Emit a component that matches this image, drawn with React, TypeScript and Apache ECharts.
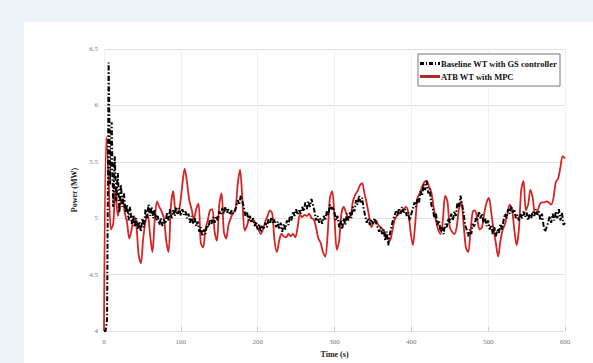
import React, { useEffect, useRef } from "react";
import * as echarts from "echarts";

const xTicks = [0, 100, 200, 300, 400, 500, 600];
const yTicks = [4, 4.5, 5, 5.5, 6, 6.5];

const baselineName = "Baseline WT with GS controller";
const mpcName = "ATB WT with MPC";

// Baseline WT, one value every 2 s from t = 0
const baselineStep = 2;
const baselineValues = [
  4.00, 4.00, 4.10, 6.38, 5.30, 5.85, 5.10, 5.55, 5.15, 5.40,
  5.05, 5.30, 5.10, 5.22, 5.05, 5.12, 4.98, 5.10, 4.95, 5.02,
  4.92, 5.00, 4.90, 4.97, 4.88, 5.00, 4.92, 5.08, 5.00, 5.12,
  5.02, 5.10, 5.00, 5.08, 4.98, 5.02, 4.94, 5.00, 4.93, 4.99,
  4.95, 5.05, 4.98, 5.08, 5.00, 5.07, 5.02, 5.10, 5.04, 5.09,
  5.02, 5.08, 5.03, 5.06, 5.00, 5.04, 4.96, 5.02, 4.95, 5.00,
  4.93, 4.97, 4.88, 4.92, 4.84, 4.90, 4.86, 4.94, 4.92, 4.99,
  4.95, 5.01, 4.96, 5.02, 4.98, 5.06, 5.03, 5.09, 5.04, 5.10,
  5.05, 5.08, 5.03, 5.07, 5.04, 5.06, 5.10, 5.16, 5.12, 5.20,
  5.15, 5.10, 5.02, 5.06, 4.98, 5.02, 4.96, 5.00, 4.93, 4.97,
  4.90, 4.95, 4.88, 4.93, 4.90, 4.96, 4.92, 4.99, 4.95, 5.01,
  4.96, 4.99, 4.92, 4.97, 4.90, 4.96, 4.88, 4.95, 4.90, 4.98,
  4.94, 5.02, 4.98, 5.06, 5.02, 5.08, 5.03, 5.07, 5.04, 5.10,
  5.06, 5.14, 5.08, 5.15, 5.10, 5.17, 5.12, 5.06, 4.98, 5.02,
  4.96, 5.00, 4.95, 5.02, 4.98, 5.06, 5.03, 5.12, 5.08, 5.10,
  5.05, 4.98, 5.02, 4.92, 4.98, 4.90, 5.00, 4.94, 5.04, 4.98,
  5.05, 5.00, 5.10, 5.06, 5.16, 5.12, 5.20, 5.14, 5.18, 5.08,
  5.02, 4.96, 5.00, 4.94, 4.99, 4.95, 5.00, 4.96, 4.92, 4.88,
  4.92, 4.86, 4.90, 4.80, 4.88, 4.76, 4.86, 4.92, 4.98, 5.02,
  5.06, 5.02, 5.09, 5.04, 5.10, 5.05, 5.08, 5.02, 5.05, 4.98,
  5.04, 5.08, 5.14, 5.10, 5.18, 5.14, 5.24, 5.20, 5.30, 5.25,
  5.33, 5.22, 5.26, 5.12, 5.08, 5.00, 5.04, 4.94, 4.98, 4.88,
  4.92, 4.86, 4.95, 4.92, 5.00, 4.96, 5.04, 4.98, 5.06, 5.02,
  5.14, 5.10, 5.20, 5.12, 5.05, 4.94, 4.90, 4.84, 4.90, 4.86,
  4.95, 4.92, 5.00, 4.98, 5.06, 5.00, 5.04, 4.96, 5.00, 4.93,
  4.98, 4.90, 4.94, 4.86, 4.92, 4.84, 4.90, 4.87, 4.95, 4.90,
  4.98, 5.04, 5.00, 5.08, 5.04, 5.11, 5.05, 5.08, 5.00, 5.03,
  4.98, 5.04, 5.00, 5.06, 5.01, 5.05, 4.98, 5.04, 5.00, 5.06,
  5.02, 5.08, 5.03, 5.06, 4.98, 5.04, 4.94, 4.88, 4.92, 4.96,
  5.02, 4.96, 5.04, 4.98, 5.06, 5.00, 5.08, 4.98, 5.05, 4.94,
  4.96,
];

// ATB WT with MPC, one value every 3 s from t = 0
const mpcStep = 3;
const mpcValues = [
  4.00, 5.72, 5.35, 4.90, 4.95, 5.27, 5.02, 5.12, 5.17, 5.05,
  4.96, 4.82, 4.90, 5.02, 4.95, 4.68, 4.60, 4.82, 4.97, 5.03,
  4.85, 4.70, 4.98, 5.15, 5.10, 5.06, 5.00, 4.80, 4.70, 5.10,
  5.24, 5.06, 5.04, 5.12, 5.30, 5.44, 5.32, 5.16, 5.08, 4.99,
  5.08, 5.13, 4.78, 4.74, 4.90, 4.98, 5.07, 5.08, 4.88, 4.80,
  5.12, 5.22, 4.88, 4.82, 4.94, 5.00, 5.05, 5.07, 5.30, 5.43,
  5.18, 4.89, 4.93, 4.99, 4.97, 4.98, 4.94, 4.90, 4.86, 4.90,
  4.97, 5.02, 5.07, 5.04, 4.80, 4.70, 4.80, 4.86, 4.84, 4.83,
  4.86, 4.84, 4.86, 4.83, 4.92, 5.03, 5.01, 5.03, 5.02, 5.04,
  5.00, 4.99, 4.92, 4.82, 4.78, 4.70, 4.66, 4.85, 5.18, 5.24,
  5.00, 4.72, 4.80, 5.04, 5.10, 5.05, 5.00, 5.02, 5.15, 5.21,
  5.24, 5.29, 5.31, 5.22, 5.13, 5.02, 4.92, 4.96, 4.98, 4.94,
  4.92, 4.90, 4.87, 4.82, 4.80, 4.88, 4.98, 5.02, 5.04, 5.06,
  5.08, 5.10, 5.05, 4.88, 4.76, 4.95, 5.18, 5.22, 5.28, 5.32,
  5.33, 5.28, 5.23, 5.10, 4.98, 4.90, 4.86, 4.98, 5.20, 5.15,
  4.92, 4.88, 4.86, 4.92, 5.08, 5.15, 4.95, 4.74, 4.70, 4.88,
  5.06, 5.07, 4.98, 4.90, 4.92, 5.05, 5.14, 5.18, 5.05, 4.90,
  4.78, 4.66, 4.80, 4.90, 4.95, 5.04, 5.12, 5.08, 4.90, 4.76,
  4.90, 5.25, 5.33, 5.07, 5.12, 5.25, 5.18, 5.04, 5.06, 5.12,
  5.14, 5.14, 5.15, 5.14, 5.12, 5.18, 5.32, 5.35, 5.45, 5.55,
  5.53,
];

const baselineData = baselineValues.map((v, i) => [i * baselineStep, v]);
const mpcData = mpcValues.map((v, i) => [i * mpcStep, v]);

const SERIF = "'Liberation Serif', 'DejaVu Serif', serif";

export default function App() {
  const ref = useRef<HTMLDivElement>(null);
  useEffect(() => {
    if (!ref.current) return;
    const chart = echarts.init(ref.current, null, { renderer: "svg" });
    chart.setOption({
      animation: false,
      backgroundColor: "#eef3f9",
      graphic: [
        {
          type: "rect",
          left: 24,
          top: 22,
          shape: { width: 569, height: 341 },
          style: { fill: "#ffffff" },
          z: -10,
          silent: true,
        },
      ],
      grid: { left: 104, right: 28, top: 49, bottom: 26, containLabel: false },
      legend: {
        right: 33,
        top: 54,
        orient: "vertical",
        itemWidth: 20,
        itemHeight: 3,
        itemGap: 4,
        padding: [5, 3, 5, 2],
        backgroundColor: "#ffffff",
        borderColor: "#777777",
        borderWidth: 1,
        borderRadius: 0,
        textStyle: {
          fontFamily: SERIF,
          fontWeight: "bold",
          fontSize: 8.5,
          color: "#111",
          padding: [0, 0, 0, -4],
        },
        data: [
          { name: baselineName, icon: "path://M0,0 L4,0 L4,3 L0,3 Z M6,0 L7,0 L7,3 L6,3 Z M9,0 L13,0 L13,3 L9,3 Z M15,0 L16,0 L16,3 L15,3 Z M18,0 L20,0 L20,3 L18,3 Z", itemStyle: { color: "#000" } },
          { name: mpcName, icon: "path://M0,0 L20,0 L20,3 L0,3 Z", itemStyle: { color: "#b4282a" } },
        ],
      },
      xAxis: {
        type: "value",
        min: 0,
        max: 600,
        interval: 100,
        name: "Time (s)",
        nameLocation: "middle",
        nameGap: 19,
        nameTextStyle: { fontFamily: SERIF, fontWeight: "bold", fontSize: 8, color: "#222" },
        axisLine: { show: false },
        axisTick: { show: true, inside: true, length: 4, lineStyle: { color: "#cccccc" } },
        axisLabel: {
          fontFamily: SERIF,
          fontSize: 7,
          color: "#777",
          margin: 7,
          formatter: (v: number) => (xTicks.includes(v) ? String(v) : ""),
        },
        splitLine: { show: true, lineStyle: { color: "#f1f1f1", width: 1 } },
      },
      yAxis: {
        type: "value",
        min: 4,
        max: 6.5,
        interval: 0.5,
        name: "Power (MW)",
        nameLocation: "middle",
        nameGap: 16,
        nameTextStyle: { fontFamily: SERIF, fontWeight: "bold", fontSize: 8, color: "#222" },
        axisLine: { show: false },
        axisTick: { show: false },
        axisLabel: {
          fontFamily: SERIF,
          fontSize: 7,
          color: "#777",
          margin: 6,
          formatter: (v: number) => (yTicks.includes(v) ? String(v) : ""),
        },
        splitLine: { show: true, lineStyle: { color: "#e2e2e2", width: 1 } },
      },
      series: [
        {
          name: baselineName,
          type: "line",
          data: baselineData,
          showSymbol: false,
          symbol: "none",
          lineStyle: { color: "#000000", width: 2, type: [5, 2, 1.5, 2] },
          itemStyle: { color: "#000000" },
          z: 3,
        },
        {
          name: mpcName,
          type: "line",
          data: mpcData,
          showSymbol: false,
          symbol: "none",
          smooth: 0.3,
          lineStyle: { color: "#d42424", width: 1.8 },
          itemStyle: { color: "#c0282a" },
          z: 2,
        },
      ],
    });
    return () => chart.dispose();
  }, []);
  return (
    <div
      ref={ref}
      style={{ position: "absolute", left: 0, top: 0, width: 593, height: 363 }}
    />
  );
}
